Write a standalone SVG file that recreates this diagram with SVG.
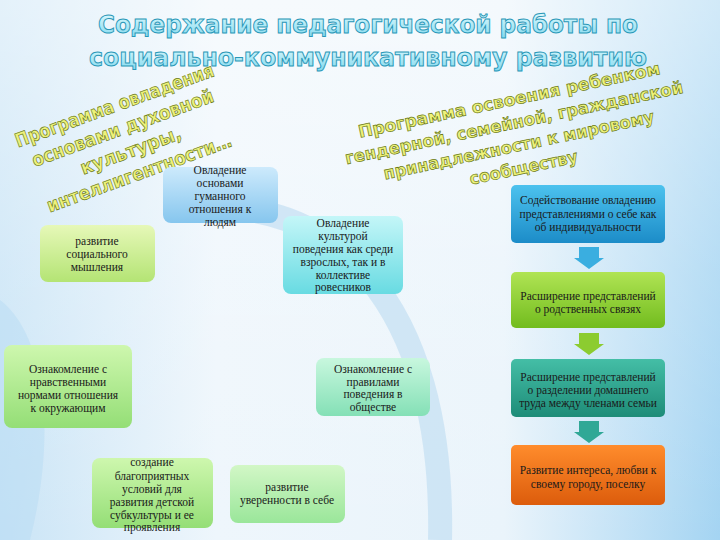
<svg xmlns="http://www.w3.org/2000/svg" width="720" height="540" viewBox="0 0 720 540">
<defs>
<linearGradient id="bg" x1="0" y1="0" x2="1" y2="0">
<stop offset="0" stop-color="#c9e4f6"/><stop offset="0.3" stop-color="#eef6fc"/><stop offset="0.7" stop-color="#eaf4fb"/><stop offset="1" stop-color="#a4d4f2"/>
</linearGradient>
<linearGradient id="bgv" x1="0" y1="0" x2="0" y2="1">
<stop offset="0" stop-color="#ffffff" stop-opacity="0.5"/><stop offset="0.5" stop-color="#ffffff" stop-opacity="0.2"/><stop offset="1" stop-color="#ffffff" stop-opacity="0"/>
</linearGradient>
<linearGradient id="ttl" x1="0" y1="0" x2="0" y2="1">
<stop offset="0" stop-color="#e6fcff"/><stop offset="1" stop-color="#7fd8ee"/>
</linearGradient>
<linearGradient id="g-lblue" x1="0" y1="0" x2="0" y2="1"><stop offset="0" stop-color="#cdeafc"/><stop offset="1" stop-color="#86c6ee"/></linearGradient>
<linearGradient id="g-lime" x1="0" y1="0" x2="0" y2="1"><stop offset="0" stop-color="#e6f8b8"/><stop offset="1" stop-color="#b4e474"/></linearGradient>
<linearGradient id="g-cyan" x1="0" y1="0" x2="0" y2="1"><stop offset="0" stop-color="#c4f6f8"/><stop offset="1" stop-color="#68dbe2"/></linearGradient>
<linearGradient id="g-green" x1="0" y1="0" x2="0" y2="1"><stop offset="0" stop-color="#cef7ae"/><stop offset="1" stop-color="#94de76"/></linearGradient>
<linearGradient id="g-mint" x1="0" y1="0" x2="0" y2="1"><stop offset="0" stop-color="#c8f7de"/><stop offset="1" stop-color="#84e0b6"/></linearGradient>
<linearGradient id="g-pale" x1="0" y1="0" x2="0" y2="1"><stop offset="0" stop-color="#d2f7c6"/><stop offset="1" stop-color="#9ae69a"/></linearGradient>
<linearGradient id="g-blue" x1="0" y1="0" x2="0" y2="1"><stop offset="0" stop-color="#4cc2ee"/><stop offset="1" stop-color="#1c8cc8"/></linearGradient>
<linearGradient id="g-grn" x1="0" y1="0" x2="0" y2="1"><stop offset="0" stop-color="#b0e454"/><stop offset="1" stop-color="#72bc1e"/></linearGradient>
<linearGradient id="g-teal" x1="0" y1="0" x2="0" y2="1"><stop offset="0" stop-color="#44bea6"/><stop offset="1" stop-color="#1e8c78"/></linearGradient>
<linearGradient id="g-orng" x1="0" y1="0" x2="0" y2="1"><stop offset="0" stop-color="#ff8c2c"/><stop offset="1" stop-color="#dc5c0c"/></linearGradient>
</defs>
<style>
.title{font-family:"DejaVu Sans","Liberation Sans",sans-serif;font-weight:bold;font-size:25px;fill:url(#ttl);stroke:#2a98b8;stroke-width:1;text-anchor:middle}
.prog{font-family:"DejaVu Sans","Liberation Sans",sans-serif;font-weight:bold;fill:#eef27a;stroke:#6a7a18;stroke-width:0.7;text-anchor:middle}
.t{font-family:"Liberation Serif","Times New Roman",serif;font-size:11.5px;fill:#1a1a1a;text-anchor:middle}
.box{stroke:none}
.arr{stroke:none}
</style>
<rect width="720" height="540" fill="url(#bg)"/>
<rect width="720" height="540" fill="url(#bgv)"/>
<path d="M185 210 C 330 190, 445 300, 440 540" fill="none" stroke="#c6e0f3" stroke-width="24" stroke-opacity="0.75"/>
<path d="M0 300 C 40 330, 60 420, 30 540 L 0 540 Z" fill="#b8dcf4" fill-opacity="0.5"/>

<g id="title">
<text class="title" x="368" y="33" textLength="540" lengthAdjust="spacingAndGlyphs">Содержание педагогической работы по</text>
<text class="title" x="368" y="66" textLength="558" lengthAdjust="spacingAndGlyphs">социально-коммуникативному развитию</text>
</g>

<g id="program-left" transform="translate(114,104) rotate(-20)">
<text class="prog" x="0" y="8" font-size="19" textLength="210" lengthAdjust="spacingAndGlyphs">Программа овладения</text>
<text class="prog" x="0" y="32" font-size="19" textLength="192" lengthAdjust="spacingAndGlyphs">основами духовной</text>
<text class="prog" x="0" y="56" font-size="19" textLength="106" lengthAdjust="spacingAndGlyphs">культуры,</text>
<text class="prog" x="0" y="80" font-size="19" textLength="195" lengthAdjust="spacingAndGlyphs">интеллигентности…</text>
</g>

<g id="program-right" transform="translate(509,99) rotate(-12)">
<text class="prog" x="0" y="7" font-size="17" textLength="308" lengthAdjust="spacingAndGlyphs">Программа освоения ребенком</text>
<text class="prog" x="0" y="30" font-size="17" textLength="345" lengthAdjust="spacingAndGlyphs">гендерной, семейной, гражданской</text>
<text class="prog" x="0" y="53" font-size="17" textLength="276" lengthAdjust="spacingAndGlyphs">принадлежности к мировому</text>
<text class="prog" x="0" y="76" font-size="17" textLength="110" lengthAdjust="spacingAndGlyphs">сообществу</text>
</g>

<g id="n-humane">
<rect class="box" x="163" y="167" width="115" height="56" rx="8" fill="url(#g-lblue)"/>
<text class="t" x="220" y="174">Овладение</text>
<text class="t" x="220" y="187">основами</text>
<text class="t" x="220" y="200">гуманного</text>
<text class="t" x="220" y="213">отношения к</text>
<text class="t" x="220" y="226">людям</text>
</g>

<g id="n-social-thinking">
<rect class="box" x="40" y="225" width="115" height="57" rx="8" fill="url(#g-lime)"/>
<text class="t" x="97" y="245">развитие</text>
<text class="t" x="97" y="258">социального</text>
<text class="t" x="97" y="271">мышления</text>
</g>

<g id="n-culture">
<rect class="box" x="283" y="216" width="120" height="78" rx="8" fill="url(#g-cyan)"/>
<text class="t" x="343" y="227">Овладение</text>
<text class="t" x="343" y="240">культурой</text>
<text class="t" x="343" y="253">поведения как среди</text>
<text class="t" x="343" y="266">взрослых, так и в</text>
<text class="t" x="343" y="279">коллективе</text>
<text class="t" x="343" y="291">ровесников</text>
</g>

<g id="n-moral">
<rect class="box" x="4" y="345" width="128" height="83" rx="8" fill="url(#g-green)"/>
<text class="t" x="68" y="373">Ознакомление с</text>
<text class="t" x="68" y="386">нравственными</text>
<text class="t" x="68" y="399">нормами отношения</text>
<text class="t" x="68" y="412">к окружающим</text>
</g>

<g id="n-rules">
<rect class="box" x="316" y="358" width="114" height="58" rx="8" fill="url(#g-mint)"/>
<text class="t" x="373" y="373">Ознакомление с</text>
<text class="t" x="373" y="386">правилами</text>
<text class="t" x="373" y="398">поведения в</text>
<text class="t" x="373" y="411">обществе</text>
</g>

<g id="n-subculture">
<rect class="box" x="92" y="458" width="121" height="70" rx="8" fill="url(#g-green)"/>
<text class="t" x="152" y="466">создание</text>
<text class="t" x="152" y="480">благоприятных</text>
<text class="t" x="152" y="493">условий для</text>
<text class="t" x="152" y="506">развития детской</text>
<text class="t" x="152" y="519">субкультуры и ее</text>
<text class="t" x="152" y="531">проявления</text>
</g>

<g id="n-confidence">
<rect class="box" x="230" y="465" width="115" height="58" rx="8" fill="url(#g-pale)"/>
<text class="t" x="287" y="491">развитие</text>
<text class="t" x="287" y="504">уверенности в себе</text>
</g>

<g id="n-individuality">
<rect class="box" x="511" y="185" width="154" height="58" rx="5" fill="url(#g-blue)"/>
<text class="t" x="588" y="204">Содействование овладению</text>
<text class="t" x="588" y="218">представлениями о себе как</text>
<text class="t" x="588" y="231">об индивидуальности</text>
</g>

<g id="n-kinship">
<rect class="box" x="511" y="272" width="154" height="56" rx="5" fill="url(#g-grn)"/>
<text class="t" x="588" y="300">Расширение представлений</text>
<text class="t" x="588" y="313">о родственных связях</text>
</g>

<g id="n-housework">
<rect class="box" x="511" y="359" width="154" height="58" rx="5" fill="url(#g-teal)"/>
<text class="t" x="588" y="381">Расширение представлений</text>
<text class="t" x="588" y="394">о разделении домашнего</text>
<text class="t" x="588" y="407">труда между членами семьи</text>
</g>

<g id="n-hometown">
<rect class="box" x="511" y="445" width="154" height="60" rx="5" fill="url(#g-orng)"/>
<text class="t" x="588" y="474">Развитие интереса, любви к</text>
<text class="t" x="588" y="488">своему городу, поселку</text>
</g>

<g id="connectors">
<path class="arr" fill="#3aaee0" d="M579 247 H599 V258 H604 L589 269 L574 258 H579 Z"/>
<path class="arr" fill="#8ccc30" d="M579 333 H599 V344 H604 L589 355 L574 344 H579 Z"/>
<path class="arr" fill="#30a896" d="M579 421 H599 V432 H604 L589 443 L574 432 H579 Z"/>
</g>
</svg>
